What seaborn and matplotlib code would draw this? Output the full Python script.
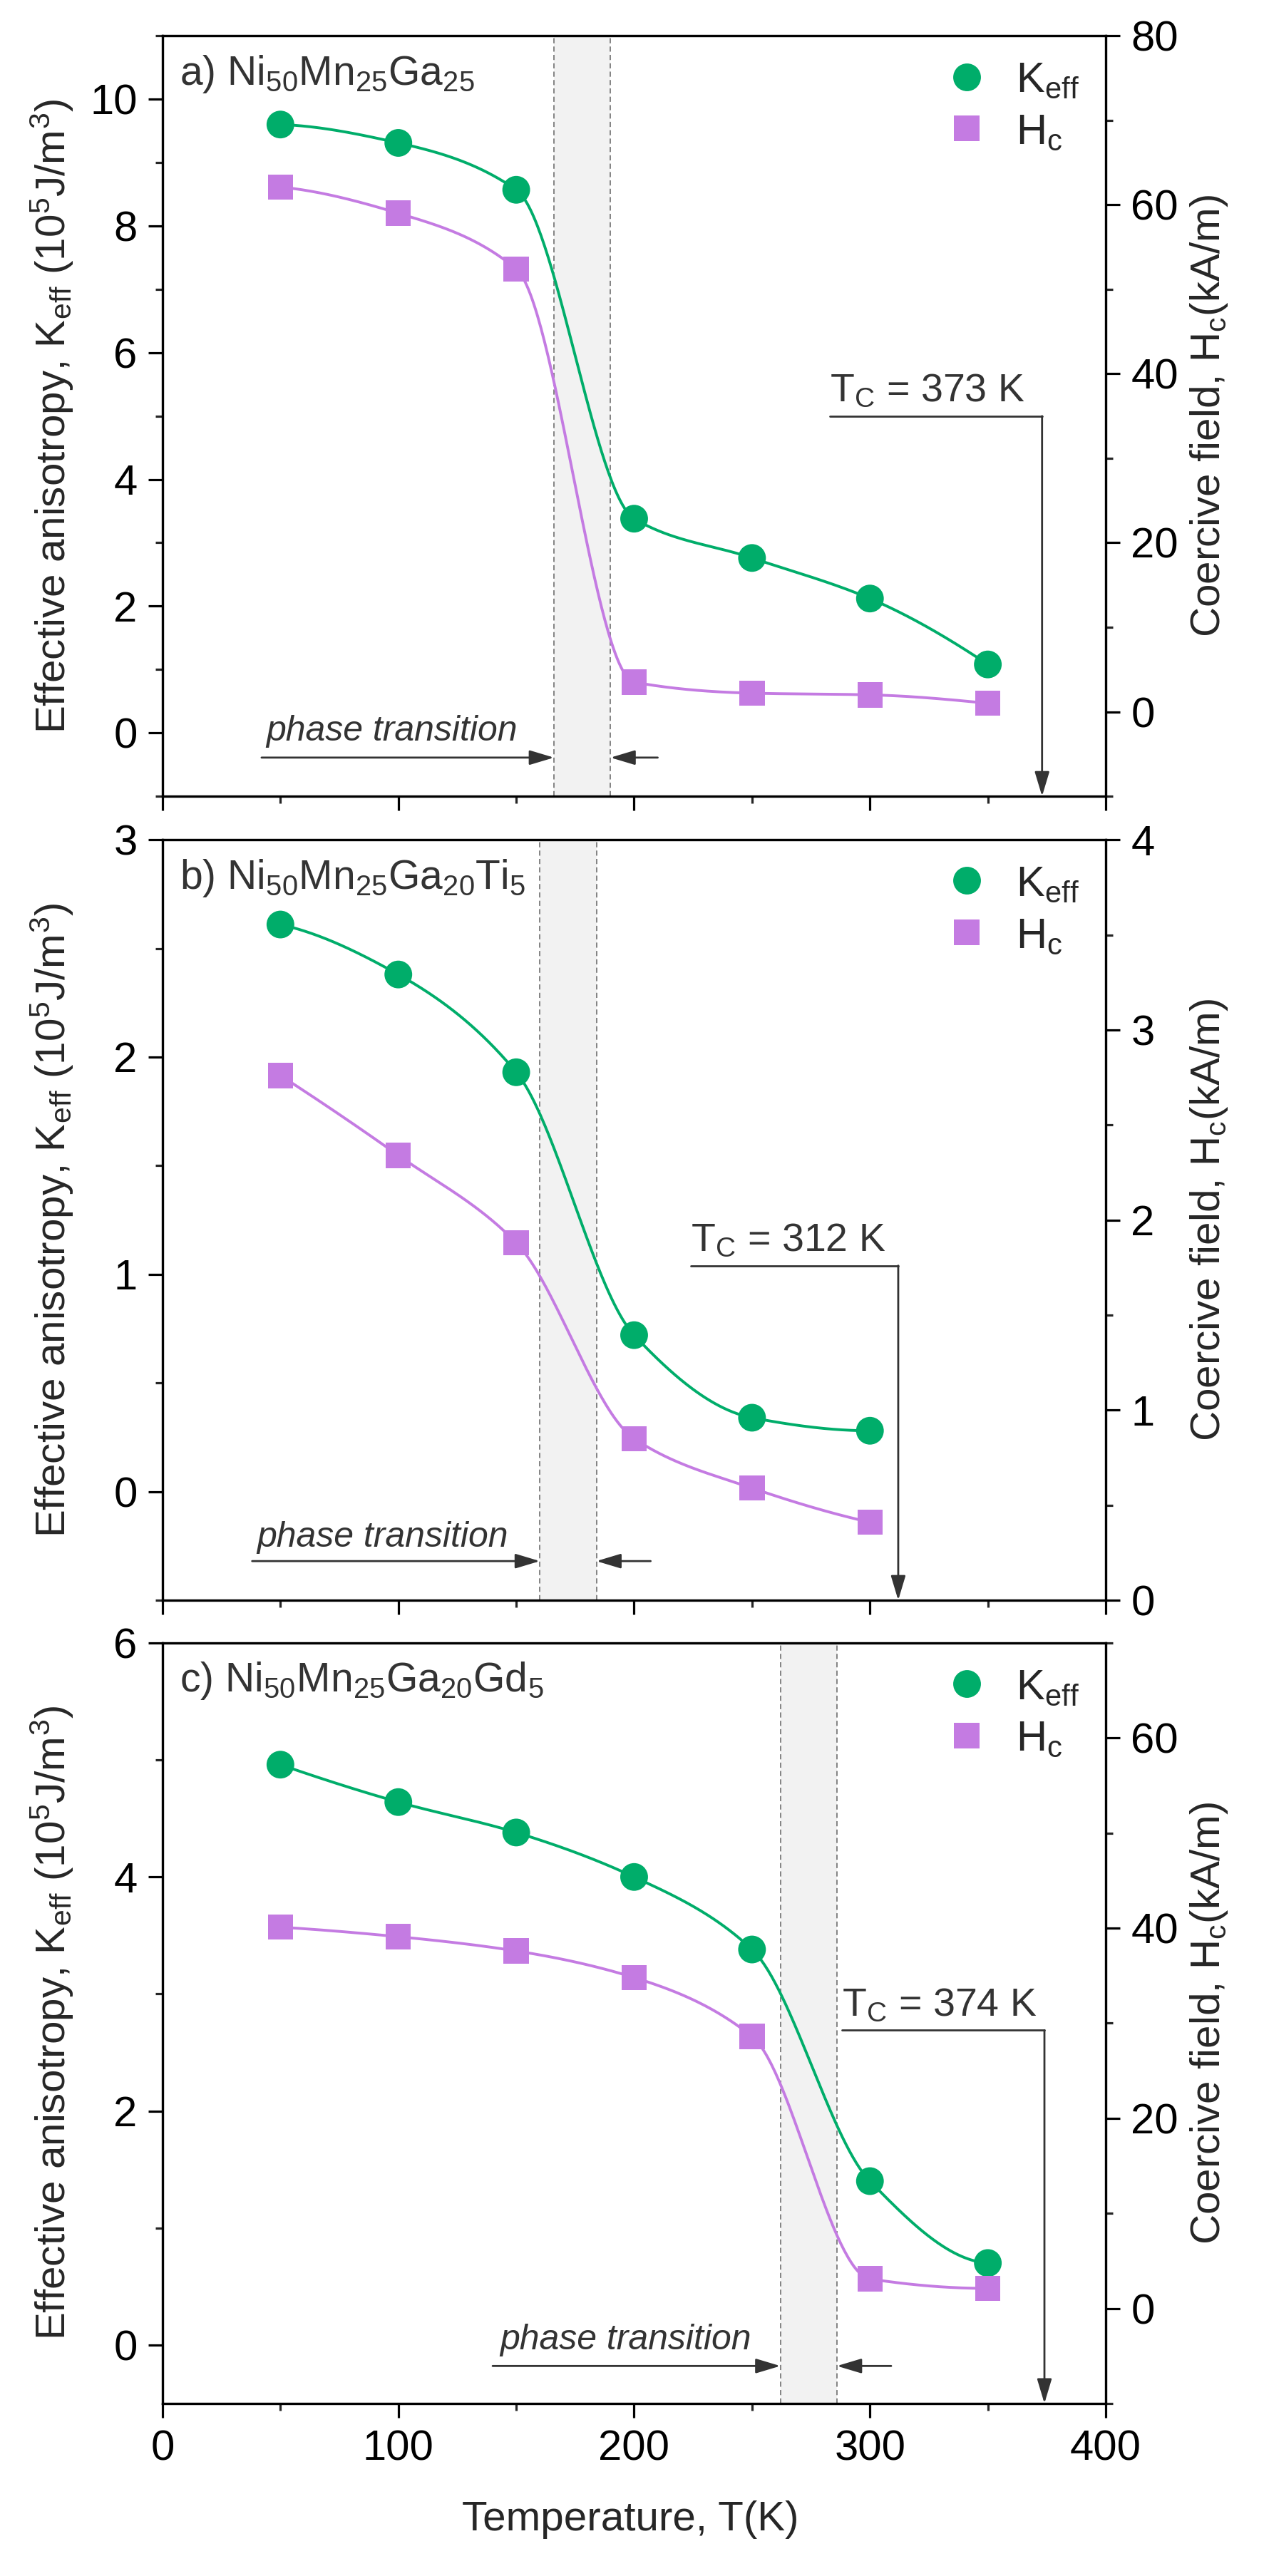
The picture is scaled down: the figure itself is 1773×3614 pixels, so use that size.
import numpy as np
import pandas as pd
import seaborn as sns
import matplotlib.pyplot as plt
from matplotlib.lines import Line2D
from matplotlib.ticker import MultipleLocator

# measurement temperatures (K)
temps = [50, 100, 150, 200, 250, 300, 350]
temps_b = [50, 100, 150, 200, 250, 300]

# effective anisotropy K_eff, 10^5 J/m^3 (left axis)
keff_a = [9.60, 9.31, 8.57, 3.38, 2.76, 2.12, 1.08]
keff_b = [2.61, 2.38, 1.93, 0.72, 0.34, 0.28]
keff_c = [4.96, 4.64, 4.38, 4.00, 3.38, 1.40, 0.70]

# coercive field H_c, kA/m (right axis)
hc_a = [62.1, 59.0, 52.4, 3.5, 2.2, 2.0, 1.0]
hc_b = [2.76, 2.34, 1.88, 0.85, 0.59, 0.41]
hc_c = [40.1, 39.1, 37.6, 34.8, 28.6, 3.1, 2.1]

titles = [r'a) Ni$_{50}$Mn$_{25}$Ga$_{25}$',
          r'b) Ni$_{50}$Mn$_{25}$Ga$_{20}$Ti$_{5}$',
          r'c) Ni$_{50}$Mn$_{25}$Ga$_{20}$Gd$_{5}$']
curie_temps = [373, 312, 374]
transition_bands = [(166, 190), (160, 184), (262, 286)]

GREEN = '#00AD6A'
PURPLE = '#C47BE2'
DARK = '#333333'

# per panel layout: axis limits, tick steps, annotation spots
layout = [
    dict(T=temps, K=keff_a, H=hc_a, ylim=(-1, 11), ystep=2, y2lim=(-10, 80), y2step=20,
         pt_text=(44, 0.03), pt_y=-0.39, pt_l=42, pt_r=210, tc_y=5.0, tc_x0=283),
    dict(T=temps_b, K=keff_b, H=hc_b, ylim=(-0.5, 3), ystep=1, y2lim=(0, 4), y2step=1,
         pt_text=(40, -0.21), pt_y=-0.32, pt_l=38, pt_r=207, tc_y=1.04, tc_x0=224),
    dict(T=temps, K=keff_c, H=hc_c, ylim=(-0.5, 6), ystep=2, y2lim=(-10, 70), y2step=20,
         pt_text=(143, 0.04), pt_y=-0.18, pt_l=140, pt_r=309, tc_y=2.69, tc_x0=288),
]


def smooth(x, y, n=400):
    # monotone cubic (pchip) connection line through the measured points
    x = np.asarray(x, float)
    y = np.asarray(y, float)
    h = np.diff(x)
    d = np.diff(y) / h
    m = np.zeros_like(y)
    for i in range(1, len(y) - 1):
        if d[i - 1] * d[i] > 0:
            w1 = 2 * h[i] + h[i - 1]
            w2 = h[i] + 2 * h[i - 1]
            m[i] = (w1 + w2) / (w1 / d[i - 1] + w2 / d[i])

    def edge(h0, h1, d0, d1):
        s = ((2 * h0 + h1) * d0 - h0 * d1) / (h0 + h1)
        if np.sign(s) != np.sign(d0):
            s = 0.0
        elif np.sign(d0) != np.sign(d1) and abs(s) > 3 * abs(d0):
            s = 3 * d0
        return s

    m[0] = edge(h[0], h[1], d[0], d[1])
    m[-1] = edge(h[-1], h[-2], d[-1], d[-2])
    xs = np.linspace(x[0], x[-1], n)
    k = np.clip(np.searchsorted(x, xs, side='right') - 1, 0, len(x) - 2)
    t = (xs - x[k]) / h[k]
    ys = ((2 * t**3 - 3 * t**2 + 1) * y[k] + (t**3 - 2 * t**2 + t) * h[k] * m[k]
          + (-2 * t**3 + 3 * t**2) * y[k + 1] + (t**3 - t**2) * h[k] * m[k + 1])
    return pd.DataFrame({'T': xs, 'v': ys})


sns.set_theme(style='ticks')
plt.rcParams['font.family'] = ['Liberation Sans', 'DejaVu Sans']
plt.rcParams['mathtext.fontset'] = 'custom'
plt.rcParams['mathtext.rm'] = 'Liberation Sans'
plt.rcParams['mathtext.it'] = 'Liberation Sans:italic'
plt.rcParams['mathtext.default'] = 'regular'
plt.rcParams['axes.linewidth'] = 2.3
plt.rcParams['axes.edgecolor'] = 'black'

fig = plt.figure(figsize=(17.74, 36.14), dpi=100)
bottoms = [0.6909, 0.3788, 0.0670]
arrow_style = dict(arrowstyle='-|>,head_length=0.6,head_width=0.18', color=DARK,
                   lw=2, mutation_scale=35, shrinkA=0, shrinkB=0)

for i, cfg in enumerate(layout):
    ax = fig.add_axes([0.1285, bottoms[i], 0.7458, 0.2952])
    ax2 = ax.twinx()

    lo, hi = transition_bands[i]
    ax.axvspan(lo, hi, color='#f2f2f2', lw=0, zorder=0)
    for xb in (lo, hi):
        ax.axvline(xb, color='#7a7a7a', ls=(0, (4, 2.5)), lw=1.3, zorder=1)

    sns.lineplot(data=smooth(cfg['T'], cfg['K']), x='T', y='v', ax=ax,
                 color=GREEN, lw=2.8, zorder=3)
    sns.scatterplot(x=cfg['T'], y=cfg['K'], ax=ax, marker='o', s=784,
                    color=GREEN, edgecolor='none', zorder=4)
    sns.lineplot(data=smooth(cfg['T'], cfg['H']), x='T', y='v', ax=ax2,
                 color=PURPLE, lw=2.8, zorder=3)
    sns.scatterplot(x=cfg['T'], y=cfg['H'], ax=ax2, marker='s', s=650,
                    color=PURPLE, edgecolor='none', zorder=4)

    ax.set_xlim(0, 400)
    ax.set_ylim(*cfg['ylim'])
    ax2.set_ylim(*cfg['y2lim'])
    ax.xaxis.set_major_locator(MultipleLocator(100))
    ax.xaxis.set_minor_locator(MultipleLocator(50))
    ax.yaxis.set_major_locator(MultipleLocator(cfg['ystep']))
    ax.yaxis.set_minor_locator(MultipleLocator(cfg['ystep'] / 2))
    ax2.yaxis.set_major_locator(MultipleLocator(cfg['y2step']))
    ax2.yaxis.set_minor_locator(MultipleLocator(cfg['y2step'] / 2))

    for a in (ax, ax2):
        a.tick_params(which='major', direction='out', length=14.5, width=2.3,
                      labelsize=43, colors='black', pad=11)
        a.tick_params(which='minor', direction='out', length=7.2, width=2.3)
    ax.tick_params(axis='x', which='both', top=False, bottom=True, pad=12)
    ax.tick_params(axis='y', which='both', right=False)
    ax.tick_params(axis='x', labelbottom=(i == 2))

    ax.set_ylabel(r'Effective anisotropy, K$_{eff}$ (10$^5$J/m$^3$)', fontsize=42)
    ax.yaxis.set_label_coords(-0.092, 0.5)
    ax2.set_ylabel(r'Coercive field, H$_c$(kA/m)', fontsize=42, rotation=90)
    ax2.yaxis.set_label_coords(1.088, 0.5)
    if i == 2:
        ax.set_xlabel('Temperature, T(K)', fontsize=42)
        ax.xaxis.set_label_coords(0.496, -0.128)
    else:
        ax.set_xlabel('')

    ax.text(0.018, 0.95, titles[i], transform=ax.transAxes, fontsize=41,
            color=DARK, va='center', ha='left')

    # phase transition marker
    ax.text(*cfg['pt_text'], 'phase transition', fontsize=36, fontstyle='italic',
            color=DARK, va='center', ha='left')
    ax.annotate('', xy=(lo, cfg['pt_y']), xytext=(cfg['pt_l'], cfg['pt_y']),
                arrowprops=arrow_style)
    ax.annotate('', xy=(hi, cfg['pt_y']), xytext=(cfg['pt_r'], cfg['pt_y']),
                arrowprops=arrow_style)

    # Curie temperature marker
    tc = curie_temps[i]
    ax.plot([cfg['tc_x0'], tc], [cfg['tc_y'], cfg['tc_y']], color=DARK, lw=2)
    ax.annotate('', xy=(tc, cfg['ylim'][0]), xytext=(tc, cfg['tc_y']),
                arrowprops=arrow_style)
    ax.annotate(r'T$_C$ = %d K' % tc, xy=(cfg['tc_x0'], cfg['tc_y']),
                xytext=(0, 6), textcoords='offset points', fontsize=40,
                color=DARK, ha='left', va='bottom')

    handles = [Line2D([], [], ls='none', marker='o', markersize=28, color=GREEN,
                      markeredgewidth=0),
               Line2D([], [], ls='none', marker='s', markersize=25.5, color=PURPLE,
                      markeredgewidth=0)]
    ax2.legend(handles, [r'K$_{eff}$', r'H$_c$'], loc='upper left',
               bbox_to_anchor=(0.83, 0.967), frameon=False, fontsize=43,
               handlelength=1.0, handletextpad=0.65, labelspacing=0.3,
               borderpad=0, borderaxespad=0)

fig.savefig('out.png', dpi=100)
